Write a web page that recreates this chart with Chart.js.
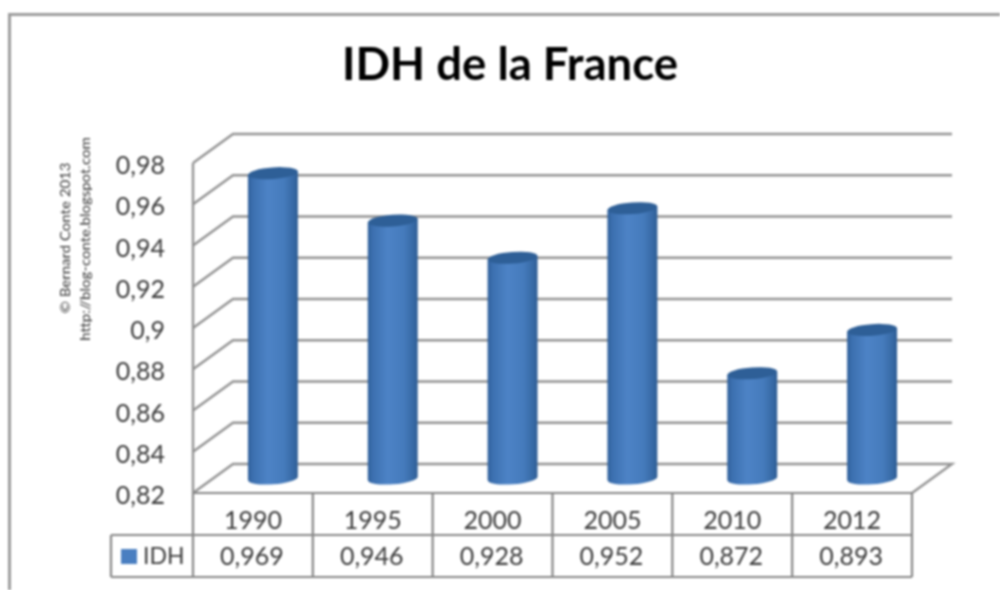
<!DOCTYPE html>
<html><head><meta charset="utf-8">
<style>html,body{margin:0;padding:0;background:#fff}canvas{display:block;filter:blur(0.8px)}#w{width:1000px;height:590px}</style>
<script src="https://cdn.jsdelivr.net/npm/chart.js@4"></script></head>
<body><div id="w"><canvas id="c" width="1000" height="590"></canvas></div>
<script>
const categories=['1990','1995','2000','2005','2010','2012'];
const idhValues=[0.969,0.946,0.928,0.952,0.872,0.893];
const seriesName='IDH';
const chartTitle='IDH de la France';
const yTickValues=[0.82,0.84,0.86,0.88,0.90,0.92,0.94,0.96,0.98];
const watermark=['© Bernard Conte 2013','http://blog-conte.blogspot.com'];

const DEPTH_X=40, DEPTH_Y=-29, GRID='#939393', LINE='#868686', TEXT='#3a3a3a', FONT='Lato, sans-serif';
const comma=v=>String(v).replace('.',',');

const scene={
  id:'scene',
  afterLayout(chart){ const t=chart.titleBlock; if(t&&!t._moved){t.left+=44;t.right+=44;t._moved=true;} },
  beforeDraw(chart){
    const c=chart.ctx;
    c.save();c.strokeStyle='#9c9c9c';c.lineWidth=3;
    c.beginPath();c.moveTo(9.5,590);c.lineTo(9.5,14.5);c.lineTo(1000,14.5);c.stroke();c.restore();
  },
  beforeDatasetsDraw(chart){
    const c=chart.ctx,a=chart.chartArea,y=chart.scales.y;
    c.save();c.strokeStyle=GRID;c.lineWidth=2.4;c.lineJoin='miter';
    yTickValues.forEach(v=>{
      const py=y.getPixelForValue(v);
      c.beginPath();c.moveTo(a.left,py);c.lineTo(a.left+DEPTH_X,py+DEPTH_Y);c.lineTo(a.right+DEPTH_X,py+DEPTH_Y);
      if(v===yTickValues[0]) c.lineTo(a.right,py);
      c.stroke();
    });
    c.beginPath();c.moveTo(a.left,a.top);c.lineTo(a.left,a.bottom);c.stroke();
    c.restore();
  },
  beforeDatasetDraw(chart,args){
    const c=chart.ctx,meta=chart.getDatasetMeta(args.index);
    const tilt=-0.075;
    meta.data.forEach(el=>{
      const cx=el.x+DEPTH_X/2, top=el.y+DEPTH_Y/2+2, base=el.base+DEPTH_Y/2, r=el.width/2, ry=5.8;
      const dxy=Math.sin(-tilt)*r;
      const g=c.createLinearGradient(cx-r,0,cx+r,0);
      g.addColorStop(0,'#30609a');g.addColorStop(0.1,'#3c70b0');g.addColorStop(0.4,'#4d83c6');
      g.addColorStop(0.72,'#457bbc');g.addColorStop(0.93,'#3567a2');g.addColorStop(1,'#2d5b92');
      c.save();
      c.beginPath();
      c.moveTo(cx-r,top+dxy);
      c.lineTo(cx-r,base+dxy);
      c.ellipse(cx,base,r,ry,tilt,Math.PI,0,true);
      c.lineTo(cx+r,top-dxy);
      c.closePath();
      c.fillStyle=g;c.fill();
      c.beginPath();c.ellipse(cx,top,r,ry,tilt,0,Math.PI*2);
      c.fillStyle='#2e5f97';c.fill();
      c.restore();
    });
    return false;
  },
  afterDraw(chart){
    const c=chart.ctx,a=chart.chartArea,x=chart.scales.x;
    const L=111,R=a.right,T0=a.bottom,T1=535,T2=577,cw=(a.right-a.left)/categories.length;
    c.save();c.strokeStyle=LINE;c.lineWidth=2.2;
    c.beginPath();
    c.moveTo(a.left,T0);c.lineTo(R,T0);
    c.moveTo(L,T1);c.lineTo(R,T1);
    c.moveTo(L,T2);c.lineTo(R,T2);
    c.moveTo(L,T1);c.lineTo(L,T2);
    for(let i=0;i<=categories.length;i++){const px=a.left+i*cw;c.moveTo(px,T0);c.lineTo(px,T2);}
    c.stroke();
    c.fillStyle=TEXT;c.font='25px '+FONT;c.textAlign='center';c.textBaseline='middle';
    idhValues.forEach((v,i)=>c.fillText(comma(v),x.getPixelForValue(i)-1,557));
    c.fillStyle=chart.data.datasets[0].backgroundColor;c.fillRect(121,549,16,15);
    c.fillStyle=TEXT;c.font='23px '+FONT;c.textAlign='left';c.fillText(seriesName,143,557);
    c.font='15px '+FONT;c.fillStyle='#333';c.textAlign='center';
    [[66,238,0],[86,239,1]].forEach(([tx,ty,i])=>{
      c.save();c.translate(tx,ty);c.rotate(-Math.PI/2);c.scale(1,0.85);c.fillText(watermark[i],0,0);c.restore();
    });
    c.restore();
  }
};

new Chart(document.getElementById('c'),{
  type:'bar',
  data:{labels:categories,datasets:[{label:seriesName,data:idhValues,base:0.82,backgroundColor:'#4a7fc1',barPercentage:0.417,categoryPercentage:1}]},
  plugins:[scene],
  options:{
    responsive:false,animation:false,
    layout:{padding:{left:20,top:0,right:88,bottom:0}},
    plugins:{
      legend:{display:false},tooltip:{enabled:false},
      title:{display:true,text:chartTitle,color:'#000',font:{family:FONT,size:45.5,weight:'bold',lineHeight:1.2},padding:{top:38,bottom:70.4}}
    },
    scales:{
      x:{grid:{display:false},border:{display:false},
        afterFit(s){s.height=97;},
        ticks:{color:TEXT,font:{family:FONT,size:25},padding:5,maxRotation:0}},
      y:{min:0.82,max:0.98,grid:{display:false},border:{display:false},
        afterFit(s){s.width=173;},
        afterBuildTicks(s){s.ticks=yTickValues.map(v=>({value:v}));},
        ticks:{color:TEXT,font:{family:FONT,size:25},padding:20,labelOffset:3,callback:v=>comma(v)}}
    }
  }
});
</script></body></html>
